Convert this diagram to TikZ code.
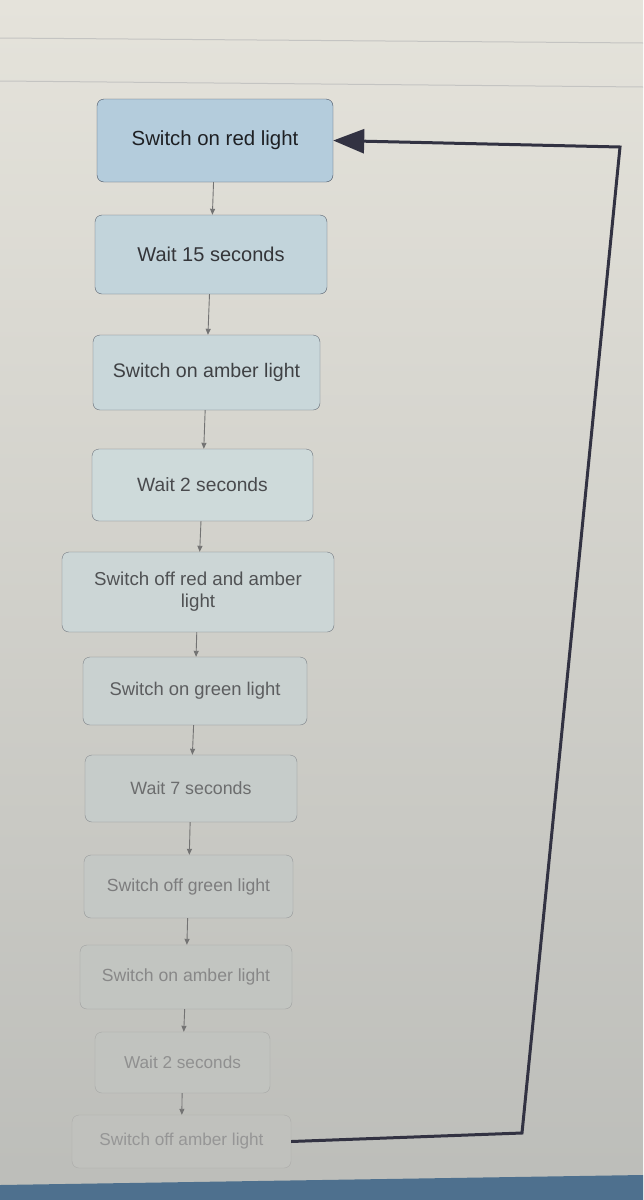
\documentclass[tikz,border=0pt]{standalone}
\usepackage{fontspec}
\setmainfont{Liberation Sans}
\usetikzlibrary{arrows.meta, positioning}
\definecolor{bgtop}{RGB}{229,227,219}
\definecolor{bgmid}{RGB}{214,213,206}
\definecolor{bgbot}{RGB}{188,189,185}
\definecolor{topfill}{RGB}{180,204,220}
\definecolor{palefill}{RGB}{206,218,218}
\definecolor{lowfill}{RGB}{192,193,189}
\definecolor{topline}{RGB}{72,82,98}
\definecolor{lowline}{RGB}{172,172,170}
\definecolor{toptext}{RGB}{30,32,36}
\definecolor{lowtext}{RGB}{150,150,150}
\definecolor{loopline}{RGB}{50,50,66}
\definecolor{taskbar}{RGB}{78,112,142}
\definecolor{screenline}{RGB}{196,196,194}
\tikzset{
    stepbox/.style n args={3}{
        rectangle, rounded corners=7pt, inner sep=0pt, align=center,
        fill=#1, draw=topline!#2!lowline, text=toptext!#2!lowtext,
        font=\fontsize{#3}{22}\selectfont
    },
    flow/.style={draw=black!55, line width=0.9pt, -{Triangle[length=6pt,width=5pt]}},
    loopback/.style={draw=loopline, line width=3pt, -{Triangle[length=31pt,width=24pt]}}
}
\begin{document}
\begin{tikzpicture}[x=1pt, y=-1pt]
\useasboundingbox (0,0) rectangle (643,1200);

% Screen
\shade[top color=bgtop, middle color=bgmid, bottom color=bgbot] (0,0) rectangle (643,1200);
\draw[screenline, line width=1pt] (0,38) -- (643,43);
\draw[screenline, line width=1pt] (0,81) -- (643,87);
\fill[taskbar] (0,1185) -- (643,1175) -- (643,1200) -- (0,1200) -- cycle;

% Steps
\node[stepbox={topfill}{100}{20.4}, minimum width=236pt, minimum height=83pt] (redon) at (215,140.5) {Switch on red light};
\node[stepbox={topfill!45!palefill}{82}{20}, minimum width=232pt, minimum height=79pt] (wait15) at (211,254.5) {Wait 15 seconds};
\node[stepbox={topfill!20!palefill}{72}{19.6}, minimum width=227pt, minimum height=75pt] (amberon) at (206.5,372.5) {Switch on amber light};
\node[stepbox={palefill}{64}{19.2}, minimum width=221pt, minimum height=72pt] (wait2) at (202.5,485) {Wait 2 seconds};
\node[stepbox={palefill!85!lowfill}{58}{18.7}, minimum width=272pt, minimum height=80pt] (redamberoff) at (198,592) {Switch off red and amber\\light};
\node[stepbox={palefill!65!lowfill}{48}{18.4}, minimum width=224pt, minimum height=68pt] (greenon) at (195,691) {Switch on green light};
\node[stepbox={palefill!45!lowfill}{35}{17.8}, minimum width=212pt, minimum height=67pt] (wait7) at (191,788.5) {Wait 7 seconds};
\node[stepbox={palefill!28!lowfill}{22}{17.6}, minimum width=209pt, minimum height=63pt] (greenoff) at (188.5,886.5) {Switch off green light};
\node[stepbox={palefill!15!lowfill}{12}{17.6}, minimum width=212pt, minimum height=64pt] (amberon2) at (186,977) {Switch on amber light};
\node[stepbox={palefill!6!lowfill}{5}{17.2}, minimum width=175pt, minimum height=61pt] (wait2b) at (182.5,1062.5) {Wait 2 seconds};
\node[stepbox={lowfill}{0}{17.2}, minimum width=219pt, minimum height=53pt] (amberoff) at (181.5,1141.5) {Switch off amber light};

% Connections
\draw[flow] (redon) -- (wait15);
\draw[flow] (wait15) -- (amberon);
\draw[flow] (amberon) -- (wait2);
\draw[flow] (wait2) -- (redamberoff);
\draw[flow] (redamberoff) -- (greenon);
\draw[flow] (greenon) -- (wait7);
\draw[flow] (wait7) -- (greenoff);
\draw[flow] (greenoff) -- (amberon2);
\draw[flow] (amberon2) -- (wait2b);
\draw[flow] (wait2b) -- (amberoff);

% Loop back to the start
\coordinate (loopbot) at (522,1133);
\coordinate (looptop) at (620,147);
\draw[loopback] (amberoff.east) -- (loopbot) -- (looptop) -- (redon.east);

\end{tikzpicture}
\end{document}
